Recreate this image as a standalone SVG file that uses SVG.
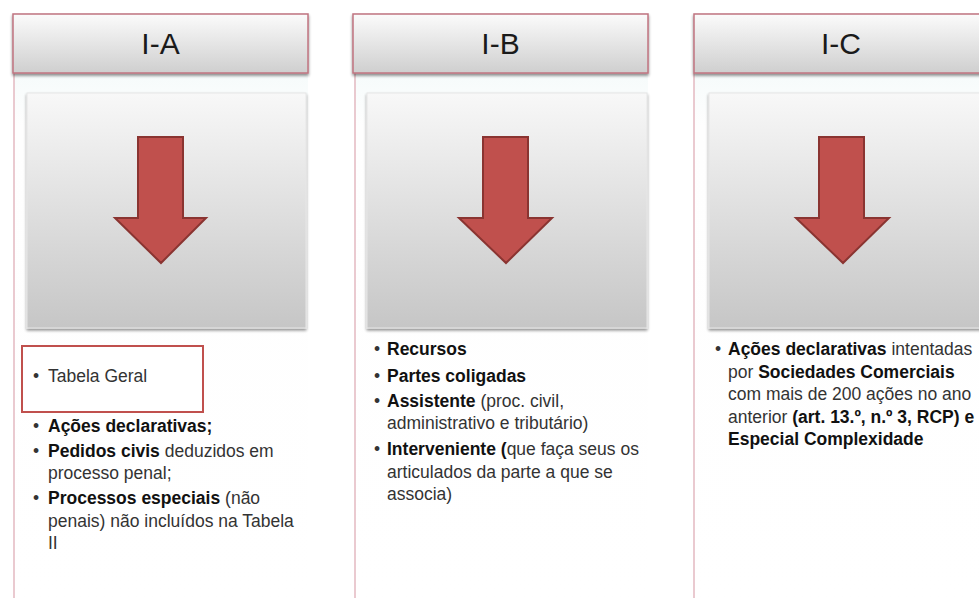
<svg xmlns="http://www.w3.org/2000/svg" width="979" height="598" viewBox="0 0 979 598">
<defs>
<linearGradient id="hdr" x1="0" y1="0" x2="0" y2="1">
<stop offset="0" stop-color="#fbfbfb"/>
<stop offset="1" stop-color="#cfcfcf"/>
</linearGradient>
<linearGradient id="box" x1="0" y1="0" x2="0" y2="1">
<stop offset="0" stop-color="#f8f8f8"/>
<stop offset="1" stop-color="#c6c6c6"/>
</linearGradient>
<linearGradient id="pan" x1="0" y1="0" x2="0" y2="1">
<stop offset="0" stop-color="#f6fbfb"/>
<stop offset="0.1" stop-color="#fefefe"/>
<stop offset="1" stop-color="#ffffff"/>
</linearGradient>
<filter id="sh" x="-5%" y="-5%" width="110%" height="115%">
<feGaussianBlur in="SourceAlpha" stdDeviation="1.5"/>
<feOffset dx="0" dy="2" result="o"/>
<feComponentTransfer><feFuncA type="linear" slope="0.45"/></feComponentTransfer>
<feMerge><feMergeNode/><feMergeNode in="SourceGraphic"/></feMerge>
</filter>
</defs>
<style>
.panel{fill:url(#pan);stroke:none}
.pline{stroke:#e3b9c0;stroke-width:1.5;fill:none}
.hdr{fill:url(#hdr);stroke:#c07480;stroke-width:1.5}
.box{fill:url(#box);stroke:#e6e6e6;stroke-width:1}
.arrow{fill:#c0504d;stroke:#8a3431;stroke-width:2;stroke-linejoin:miter}
.title{font-family:"Liberation Sans",Arial,sans-serif;font-size:30px;fill:#1a1a1a;text-anchor:middle}
.t{font-family:"Liberation Sans",Arial,sans-serif;font-size:17.5px;fill:#333}
.b{font-weight:bold;fill:#111}
.redbox{fill:#fff;stroke:#c0504d;stroke-width:2}
</style>
<rect width="979" height="598" fill="#ffffff"/>

<g id="col-IA">
<rect class="panel" x="14" y="73" width="294" height="530"/>
<line class="pline" x1="14" y1="73" x2="14" y2="598"/>
<rect class="box" x="27" y="93" width="279" height="235" filter="url(#sh)"/>
<polygon class="arrow" points="138,137 183,137 183,218 206,218 161,263 115,218 138,218"/>
<rect class="hdr" x="13" y="14" width="295" height="59" filter="url(#sh)"/>
<text class="title" x="160.5" y="54">I-A</text>
<rect class="redbox" x="22" y="346" width="181" height="66"/>
<text class="t" x="33" y="382">•</text>
<text class="t" x="48" y="382">Tabela Geral</text>
<text class="t" x="33" y="432">•</text>
<text class="t b" x="48" y="432">Ações declarativas;</text>
<text class="t" x="33" y="457">•</text>
<text class="t" x="48" y="457"><tspan class="b">Pedidos civis</tspan> deduzidos em</text>
<text class="t" x="48" y="479">processo penal;</text>
<text class="t" x="33" y="504">•</text>
<text class="t" x="48" y="504"><tspan class="b">Processos especiais</tspan> (não</text>
<text class="t" x="48" y="527">penais) não incluídos na Tabela</text>
<text class="t" x="48" y="549">II</text>
</g>

<g id="col-IB">
<rect class="panel" x="354" y="73" width="294" height="530"/>
<line class="pline" x1="355" y1="73" x2="355" y2="598"/>
<rect class="box" x="367" y="93" width="280" height="235" filter="url(#sh)"/>
<polygon class="arrow" points="483,137 528,137 528,218 552,218 506,263 459,218 483,218"/>
<rect class="hdr" x="353" y="14" width="295" height="59" filter="url(#sh)"/>
<text class="title" x="500.5" y="54">I-B</text>
<text class="t" x="374" y="355">•</text>
<text class="t b" x="387" y="355">Recursos</text>
<text class="t" x="374" y="382">•</text>
<text class="t b" x="387" y="382">Partes coligadas</text>
<text class="t" x="374" y="407">•</text>
<text class="t" x="387" y="407"><tspan class="b">Assistente</tspan> (proc. civil,</text>
<text class="t" x="387" y="429">administrativo e tributário)</text>
<text class="t" x="374" y="455">•</text>
<text class="t" x="387" y="455"><tspan class="b">Interveniente (</tspan>que faça seus os</text>
<text class="t" x="387" y="478">articulados da parte a que se</text>
<text class="t" x="387" y="500">associa)</text>
</g>

<g id="col-IC">
<rect class="panel" x="694" y="73" width="300" height="530"/>
<line class="pline" x1="694" y1="73" x2="694" y2="598"/>
<rect class="box" x="709" y="93" width="285" height="235" filter="url(#sh)"/>
<polygon class="arrow" points="819,137 864,137 864,218 889,218 843,263 796,218 819,218"/>
<rect class="hdr" x="694" y="14" width="300" height="59" filter="url(#sh)"/>
<text class="title" x="841" y="54">I-C</text>
<text class="t" x="715" y="355">•</text>
<text class="t" x="728" y="355"><tspan class="b">Ações declarativas</tspan> intentadas</text>
<text class="t" x="728" y="378">por <tspan class="b">Sociedades Comerciais</tspan></text>
<text class="t" x="728" y="400">com mais de 200 ações no ano</text>
<text class="t" x="728" y="423">anterior <tspan class="b">(art. 13.º, n.º 3, RCP) e</tspan></text>
<text class="t b" x="728" y="445">Especial Complexidade</text>
</g>
</svg>
